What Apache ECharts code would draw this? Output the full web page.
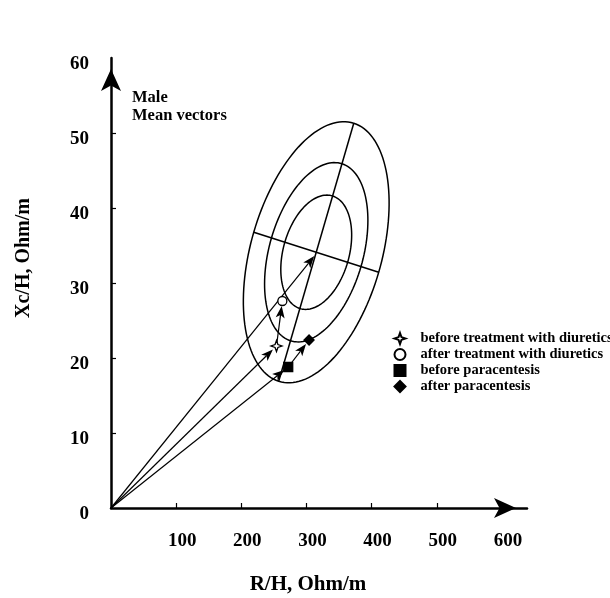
<!DOCTYPE html>
<html>
<head>
<meta charset="utf-8">
<script src="https://cdn.jsdelivr.net/npm/echarts@6/dist/echarts.min.js"></script>
<style>
  html, body { margin: 0; padding: 0; background: #fff; }
  #chart { width: 610px; height: 598px; }
</style>
</head>
<body>
<div id="chart"></div>
<script>
const seriesNames = [
  "before treatment with diuretics",
  "after treatment with diuretics",
  "before paracentesis",
  "after paracentesis"
];
const pointR = [254, 263, 272, 304];
const pointXc = [21.6, 27.6, 18.8, 22.4];

// mean vector of the reference group, centre of the ellipses
const meanR = 315;
const meanXc = 34.1;
const meanTip = [312, 33.6];

// semi-axis vectors of the ellipses (inner, middle, outer), in R/H and Xc/H units
const majorR = [25.2, 39.6, 57.6];
const majorXc = [7.5, 11.8, 17.2];
const minorR = [48.2, 68.7, 95.9];
const minorXc = [-1.34, -1.91, -2.67];

// vectors drawn as arrows: start -> end
const arrowStart = ["origin", "origin", seriesNames[0], "origin", seriesNames[2]];
const arrowEnd = ["mean", seriesNames[0], seriesNames[1], seriesNames[2], seriesNames[3]];

const xTicks = [100, 200, 300, 400, 500, 600];
const yTicks = [0, 10, 20, 30, 40, 50, 60];

const FONT = "Liberation Serif";

function pointOf(name) {
  if (name === "origin") return [0, 0];
  if (name === "mean") return meanTip;
  const i = seriesNames.indexOf(name);
  return [pointR[i], pointXc[i]];
}

const arrowData = arrowStart.map((s, i) => pointOf(s).concat(pointOf(arrowEnd[i])));
const arrowGap = arrowEnd.map(e => e === "mean" ? 0 : 5);

function renderEllipse(params, api) {
  const i = params.dataIndex;
  const pts = [];
  for (let k = 0; k <= 144; k++) {
    const t = k / 144 * Math.PI * 2;
    const c = Math.cos(t), s = Math.sin(t);
    pts.push(api.coord([
      meanR + majorR[i] * c + minorR[i] * s,
      meanXc + majorXc[i] * c + minorXc[i] * s
    ]));
  }
  const lineStyle = { stroke: "#000", fill: null, lineWidth: 1.5 };
  const children = [{ type: "polyline", shape: { points: pts }, style: lineStyle }];
  if (i === majorR.length - 1) {
    const a0 = api.coord([meanR - majorR[i], meanXc - majorXc[i]]);
    const a1 = api.coord([meanR + majorR[i], meanXc + majorXc[i]]);
    const b0 = api.coord([meanR - minorR[i], meanXc - minorXc[i]]);
    const b1 = api.coord([meanR + minorR[i], meanXc + minorXc[i]]);
    children.push({ type: "line", shape: { x1: a0[0], y1: a0[1], x2: a1[0], y2: a1[1] }, style: lineStyle });
    children.push({ type: "line", shape: { x1: b0[0], y1: b0[1], x2: b1[0], y2: b1[1] }, style: lineStyle });
  }
  return { type: "group", children: children };
}

function renderArrow(params, api) {
  const p0 = api.coord([api.value(0), api.value(1)]);
  const p1 = api.coord([api.value(2), api.value(3)]);
  const gap = arrowGap[params.dataIndex];
  const dx = p1[0] - p0[0], dy = p1[1] - p0[1];
  const len = Math.hypot(dx, dy);
  const ux = dx / len, uy = dy / len;
  const nx = -uy, ny = ux;
  const L = 12, W = 4.5, notch = 3;
  const tip = [p1[0] - ux * gap, p1[1] - uy * gap];
  const base = [tip[0] - ux * L, tip[1] - uy * L];
  const inner = [tip[0] - ux * (L - notch), tip[1] - uy * (L - notch)];
  return {
    type: "group",
    children: [
      {
        type: "line",
        shape: { x1: p0[0], y1: p0[1], x2: inner[0], y2: inner[1] },
        style: { stroke: "#000", lineWidth: 1.2 }
      },
      {
        type: "polygon",
        shape: { points: [tip, [base[0] + nx * W, base[1] + ny * W], inner, [base[0] - nx * W, base[1] - ny * W]] },
        style: { fill: "#000" }
      }
    ]
  };
}

const symbols = [
  "path://M0,-10 L2.6,-2.6 L10,0 L2.6,2.6 L0,10 L-2.6,2.6 L-10,0 L-2.6,-2.6 Z",
  "circle",
  "rect",
  "diamond"
];
const symbolSizes = [11, 9, 9, 10];
const fills = ["#fff", "#fff", "#000", "#000"];

const scatterSeries = seriesNames.map((name, i) => ({
  name: name,
  type: "scatter",
  symbol: symbols[i],
  symbolSize: symbolSizes[i],
  itemStyle: { color: fills[i], borderColor: "#000", borderWidth: 1.3, opacity: 1 },
  z: 5,
  data: [[pointR[i], pointXc[i]]]
}));

const chart = echarts.init(document.getElementById("chart"));
chart.setOption({
  animation: false,
  backgroundColor: "#fff",
  grid: { left: 111, top: 58, width: 416, height: 450 },
  xAxis: {
    type: "value",
    min: 0,
    max: 638.5,
    splitLine: { show: false },
    axisLine: {
      lineStyle: { color: "#000", width: 2.5 },
      symbol: ["none", "arrow"],
      symbolSize: [15, 22],
      symbolOffset: [0, -11]
    },
    axisTick: { inside: true, length: 5, lineStyle: { color: "#000", width: 1.2 }, customValues: xTicks.slice(0, 5) },
    axisLabel: {
      customValues: xTicks,
      color: "#000",
      fontFamily: FONT,
      fontWeight: "bold",
      fontSize: 19,
      margin: 24,
      padding: [0, 0, 0, 12]
    }
  },
  yAxis: {
    type: "value",
    min: 0,
    max: 60,
    splitLine: { show: false },
    axisLine: {
      lineStyle: { color: "#000", width: 2.5 },
      symbol: ["none", "arrow"],
      symbolSize: [15, 22],
      symbolOffset: [0, -11]
    },
    axisTick: { inside: true, length: 5, lineStyle: { color: "#000", width: 1.2 }, customValues: yTicks.slice(1, 6) },
    axisLabel: {
      customValues: yTicks,
      color: "#000",
      fontFamily: FONT,
      fontWeight: "bold",
      fontSize: 19,
      margin: 22,
      formatter: v => "{a|" + v + "}",
      rich: { a: { fontFamily: FONT, fontWeight: "bold", fontSize: 19, color: "#000", padding: [12, 0, 0, 0] } }
    }
  },
  legend: {
    data: seriesNames,
    orient: "vertical",
    left: 393.5,
    top: 331,
    padding: 0,
    itemWidth: 11,
    itemHeight: 11,
    itemGap: 1,
    selectedMode: false,
    textStyle: { color: "#000", fontFamily: FONT, fontWeight: "bold", fontSize: 14.5, padding: [0, 0, 0, 10] }
  },
  graphic: [
    { type: "text", left: 132, top: 89, style: { text: "Male", font: "bold 16.5px " + FONT, fill: "#000" } },
    { type: "text", left: 132, top: 107, style: { text: "Mean vectors", font: "bold 16.5px " + FONT, fill: "#000" } },
    {
      type: "text", x: 308, y: 585,
      style: { text: "R/H, Ohm/m", font: "bold 21px " + FONT, fill: "#000", align: "center", verticalAlign: "middle" }
    },
    {
      type: "text", x: 24, y: 258, rotation: Math.PI / 2,
      style: { text: "Xc/H, Ohm/m", font: "bold 20px " + FONT, fill: "#000", align: "center", verticalAlign: "middle" }
    }
  ],
  series: [
    {
      type: "custom",
      name: "ellipses",
      renderItem: renderEllipse,
      data: majorR.map(() => [meanR, meanXc]),
      z: 2,
      silent: true
    },
    {
      type: "custom",
      name: "vectors",
      renderItem: renderArrow,
      data: arrowData,
      encode: { x: [0, 2], y: [1, 3] },
      z: 3,
      silent: true
    }
  ].concat(scatterSeries)
});
</script>
</body>
</html>
